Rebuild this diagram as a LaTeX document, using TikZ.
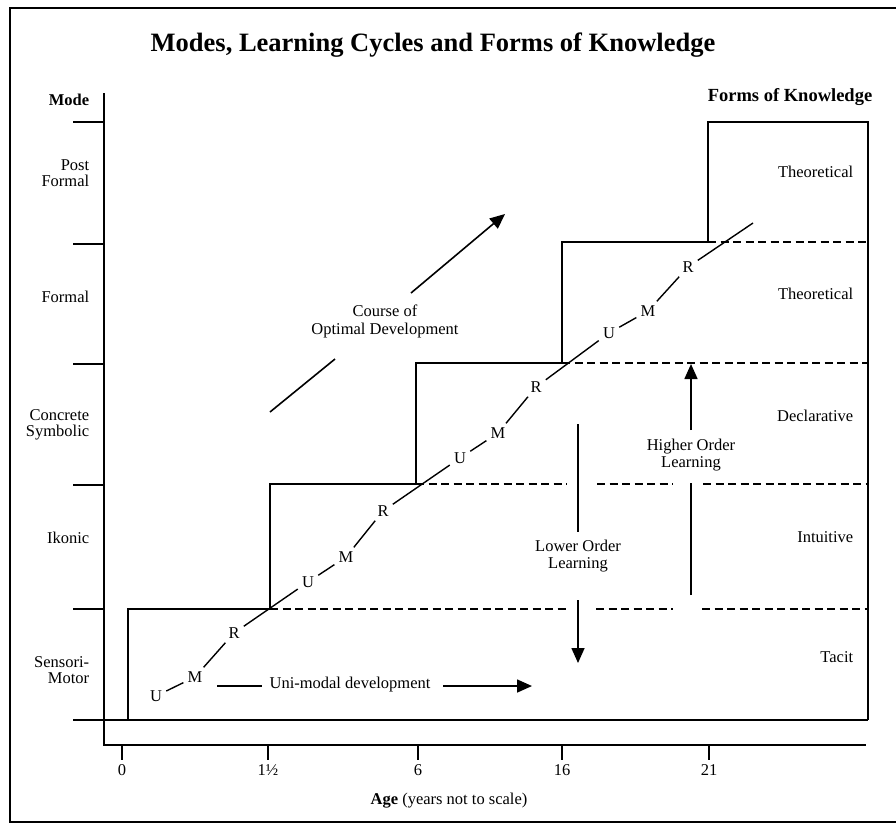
\documentclass[tikz,border=0pt]{standalone}
\usepackage{fontspec}
\setmainfont{Liberation Serif}
\usetikzlibrary{arrows.meta}
\begin{document}
\begin{tikzpicture}[x=1pt,y=-1pt,line width=1.6pt,
  lbl/.style={font=\fontsize{16.5}{16.5}\selectfont,inner sep=0pt},
  lblr/.style={lbl,align=right},
  lblc/.style={lbl,align=center},
  cyc/.style={font=\fontsize{16.5}{16.5}\selectfont,inner sep=3.5pt},
  dsh/.style={dash pattern=on 8pt off 4.5pt},
  arr/.style={-{Triangle[length=15pt,width=13pt]}},
  tick/.style={line width=1.4pt}]
\useasboundingbox (0,0) rectangle (896,823);
% outer frame
\draw[line width=1.4pt] (896,8) -- (10,8) -- (10,822) -- (896,822);
% title
\node[font=\fontsize{26.5}{26.5}\selectfont\bfseries,inner sep=0pt] (title) at (433,45) {Modes, Learning Cycles and Forms of Knowledge};
\node[lbl,font=\fontsize{16.5}{16.5}\selectfont\bfseries,anchor=east] (mode) at (90,100) {Mode};
\node[lbl,font=\fontsize{18.5}{18.5}\selectfont\bfseries] (fok) at (790,97) {Forms of Knowledge};
% axes
\draw (104,93) -- (104,745) -- (866,745);
\foreach \y in {122,244,364,485,609} \draw (73,\y) -- (104,\y);
% ticks
\foreach \x/\t/\n in {122/0/a,268/1½/b,418/6/c,562/16/d,709/21/e}{
  \draw[tick] (\x,745) -- (\x,760);
  \node[lbl] (tick\n) at (\x,770) {\t};
}
\node[lbl] (age) at (449,801) {\textbf{Age} (years not to scale)};
% staircase
\draw (73,720) -- (868,720);
\draw (128,720) -- (128,609) -- (270,609) -- (270,484) -- (416,484) -- (416,363) -- (562,363) -- (562,242) -- (708,242) -- (708,122) -- (868,122) -- (868,720);
% dashed levels
\draw[dsh] (270,609) -- (569,609);
\draw[dsh] (596,609) -- (673,609);
\draw[dsh] (702,609) -- (868,609);
\draw[dsh] (416,484) -- (567,484);
\draw[dsh] (597,484) -- (673,484);
\draw[dsh] (703,484) -- (868,484);
\draw[dsh] (562,363) -- (868,363);
\draw[dsh] (708,242) -- (868,242);
% mode labels
\node[lblr,anchor=east] (pf) at (90,173) {Post\\Formal};
\node[lblr,anchor=east] (fo) at (90,297) {Formal};
\node[lblr,anchor=east] (cs) at (90,425) {Concrete\\Symbolic};
\node[lblr,anchor=east] (ik) at (90,538) {Ikonic};
\node[lblr,anchor=east] (sm) at (90,670) {Sensori-\\Motor};
% forms of knowledge
\node[lbl,anchor=east] (th1) at (854,172) {Theoretical};
\node[lbl,anchor=east] (th2) at (854,294) {Theoretical};
\node[lbl,anchor=east] (de) at (854,416) {Declarative};
\node[lbl,anchor=east] (in) at (854,537) {Intuitive};
\node[lbl,anchor=east] (ta) at (854,657) {Tacit};
% learning cycles
\node[cyc] (u1) at (156,696) {U};
\node[cyc] (m1) at (195,677) {M};
\node[cyc] (r1) at (234,633) {R};
\node[cyc] (u2) at (308,582) {U};
\node[cyc] (m2) at (346,557) {M};
\node[cyc] (r2) at (383,511) {R};
\node[cyc] (u3) at (460,458) {U};
\node[cyc] (m3) at (498,433) {M};
\node[cyc] (r3) at (536,387) {R};
\node[cyc] (u4) at (609,333) {U};
\node[cyc] (m4) at (648,311) {M};
\node[cyc] (r4) at (688,267) {R};
\coordinate (end) at (753,223);
\draw[line width=1.4pt] (u1) -- (m1) -- (r1) -- (u2) -- (m2) -- (r2) -- (u3) -- (m3) -- (r3) -- (u4) -- (m4) -- (r4) -- (end);
% course of optimal development
\node[lblc] (cod) at (385,321) {Course of\\[1.5pt]Optimal Development};
\coordinate (c1) at (270,412);
\coordinate (c2) at (335,359);
\coordinate (c3) at (411,293);
\coordinate (c4) at (505,214);
\draw (c1) -- (c2);
\draw[arr] (c3) -- (c4);
% uni-modal
\node[lbl] (uni) at (350,685) {Uni-modal development};
\coordinate (un1) at (217,686);
\coordinate (un2) at (262,686);
\coordinate (un3) at (443,686);
\coordinate (un4) at (532,686);
\draw (un1) -- (un2);
\draw[arr] (un3) -- (un4);
% lower order learning
\node[lblc] (lol) at (578,556) {Lower Order\\Learning};
\coordinate (lo1) at (578,424);
\coordinate (lo2) at (578,532);
\coordinate (lo3) at (578,600);
\coordinate (lo4) at (578,663);
\draw (lo1) -- (lo2);
\draw[arr] (lo3) -- (lo4);
% higher order learning
\node[lblc] (hol) at (691,455) {Higher Order\\Learning};
\coordinate (ho1) at (691,595);
\coordinate (ho2) at (691,483);
\coordinate (ho3) at (691,430);
\coordinate (ho4) at (691,364);
\draw (ho1) -- (ho2);
\draw[arr] (ho3) -- (ho4);
\end{tikzpicture}
\end{document}
